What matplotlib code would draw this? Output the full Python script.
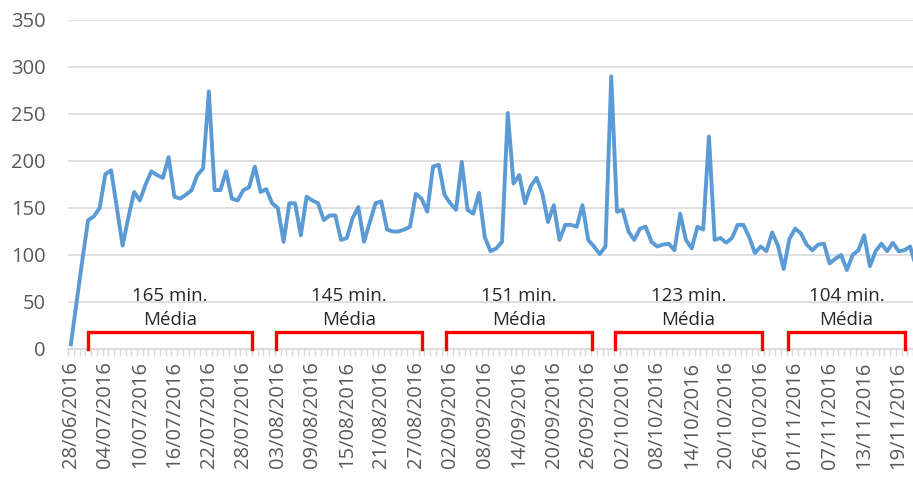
import matplotlib.pyplot as plt
import pandas as pd

# daily values, starting 28/06/2016
values = [5, 50, 95, 137, 141, 150, 186, 190, 150, 110,
          140, 167, 158, 175, 189, 185, 182, 204, 162, 160,
          164, 169, 185, 192, 274, 169, 169, 189, 160, 158,
          169, 172, 194, 167, 170, 155, 150, 114, 155, 155,
          121, 162, 158, 155, 137, 142, 142, 116, 118, 139,
          151, 114, 135, 155, 157, 127, 125, 125, 127, 130,
          165, 160, 146, 194, 196, 164, 155, 148, 199, 148,
          144, 166, 119, 104, 107, 114, 251, 176, 185, 155,
          173, 182, 166, 135, 153, 116, 132, 132, 130, 153,
          116, 109, 101, 109, 290, 146, 148, 125, 116, 128,
          130, 114, 109, 111, 112, 105, 144, 116, 107, 130,
          127, 226, 116, 118, 113, 118, 132, 132, 119, 102,
          109, 104, 124, 110, 85, 117, 128, 123, 111, 105,
          111, 112, 91, 96, 100, 84, 100, 105, 121, 88,
          104, 112, 104, 113, 104, 105, 109, 88]

dates = pd.date_range('2016-06-28', periods=len(values), freq='D')
tick_labels = [d.strftime('%d/%m/%Y') for d in dates[::6]]

avg_labels = ['165 min.', '145 min.', '151 min.', '123 min.', '104 min.']
# bracket spans in day index
spans = [(3.0, 31.5), (35.6, 61.1), (65.2, 90.7), (94.7, 120.2), (124.7, 145.1)]

plt.rcParams['font.family'] = ['Open Sans', 'DejaVu Sans']

fig = plt.figure(figsize=(9.13, 4.82), dpi=100)
ax = fig.add_axes([0.0745, 0.276, 0.9255, 0.6826])

x = list(range(len(values)))
ax.plot(x, values, color='#5B9BD5', lw=2.8, solid_joinstyle='round', zorder=3)

for (a, b), lab in zip(spans, avg_labels):
    ax.plot([a, a, b, b], [0, 18.4, 18.4, 0], color='#FF0000', lw=2.4,
            solid_joinstyle='miter', zorder=4, clip_on=False)
    ax.text((a + b) / 2, 56, lab, ha='center', va='center', fontsize=13.5, color='#262626')
    ax.text((a + b) / 2, 31, 'Média', ha='center', va='center', fontsize=13.5, color='#262626')

ax.set_ylim(0, 350)
ax.set_yticks(range(0, 351, 50))
ax.set_xlim(-0.5, 146.2)
ax.set_xticks(x[::6])
ax.set_xticklabels(tick_labels, rotation=90, fontsize=14.5, color='#595959')
ax.set_xticks([i - 0.5 for i in x], minor=True)

ax.grid(axis='y', color='#D9D9D9', lw=1.2)
ax.set_axisbelow(True)
for s in ['top', 'right', 'left']:
    ax.spines[s].set_visible(False)
ax.spines['bottom'].set_color('#D9D9D9')
ax.spines['bottom'].set_linewidth(1.2)

ax.tick_params(axis='y', length=0, pad=16, labelsize=14.5, labelcolor='#595959')
ax.tick_params(axis='x', which='major', length=0, pad=9)
ax.tick_params(axis='x', which='minor', length=5, color='#D9D9D9', width=1)

fig.savefig('out.png', dpi=100)
